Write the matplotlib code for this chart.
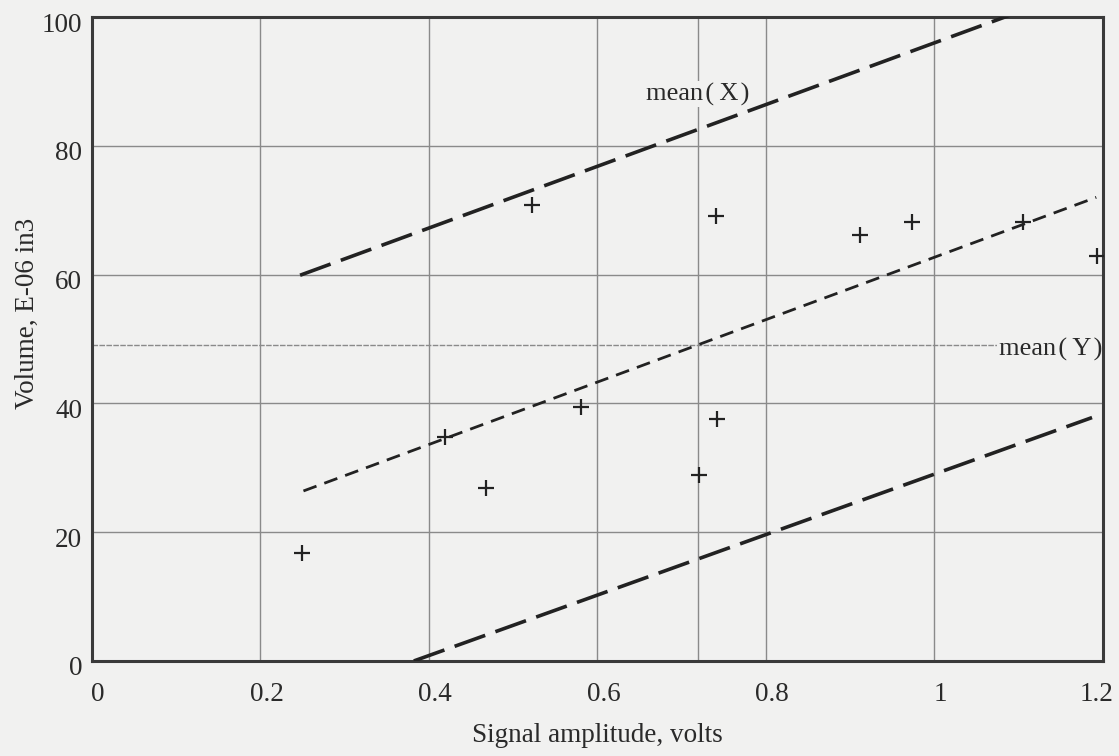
import matplotlib
matplotlib.use('Agg')
import matplotlib.pyplot as plt
import matplotlib.transforms as mtransforms
import numpy as np

# Measured points (signal amplitude in volts, volume in E-06 in3)
amplitude = [0.249, 0.419, 0.468, 0.580, 0.721, 0.742,
             0.522, 0.741, 0.912, 0.973, 1.105, 1.193]
volume = [16.8, 34.8, 26.8, 39.5, 28.9, 37.5,
          70.8, 69.1, 66.1, 68.2, 68.2, 62.9]

# Fit line and its upper / lower bounds, end points
fit_x = [0.251, 1.192]
fit_y = [26.4, 72.0]
upper_x = [0.247, 1.092]
upper_y = [59.9, 100.4]
lower_x = [0.382, 1.187]
lower_y = [0.0, 37.8]

x_ticks = [0, 0.2, 0.4, 0.6, 0.8, 1.0, 1.2]
x_tick_labels = ['0', '0.2', '0.4', '0.6', '0.8', '1', '1.2']
y_ticks = [0, 20, 40, 60, 80, 100]

BG = '#f1f1f0'
INK = '#2a2a2a'
GRID = '#8a8a8a'

plt.rcParams['font.family'] = ['Liberation Serif', 'DejaVu Serif']

fig = plt.figure(figsize=(11.19, 7.56), dpi=100, facecolor=BG)
ax = fig.add_axes([0.0822, 0.1257, 0.9035, 0.8518], facecolor=BG)

ax.set_xlim(0, 1.2)
ax.set_ylim(0, 100)
ax.set_xticks(x_ticks)
ax.set_xticklabels(x_tick_labels)
ax.set_yticks(y_ticks)
ax.tick_params(length=0, labelsize=19.5, colors=INK)
ax.tick_params(axis='x', pad=15)
ax.tick_params(axis='y', pad=7)

# nudge tick labels a bit like the original
offset = mtransforms.ScaledTranslation(0, -5 / 100, fig.dpi_scale_trans)
for lbl in ax.get_yticklabels():
    lbl.set_transform(lbl.get_transform() + offset)
xlabels = ax.get_xticklabels()
for lbl in xlabels[:-1]:
    lbl.set_transform(lbl.get_transform()
                      + mtransforms.ScaledTranslation(6 / 100, 0, fig.dpi_scale_trans))
xlabels[-1].set_transform(xlabels[-1].get_transform()
                          + mtransforms.ScaledTranslation(-6 / 100, 0, fig.dpi_scale_trans))

ax.grid(True, color=GRID, linewidth=1.0)
ax.set_axisbelow(True)
for sp in ax.spines.values():
    sp.set_linewidth(2.2)
    sp.set_color('#3a3a3a')

# mean markers
mean_x = np.mean(amplitude)
mean_y = np.mean(volume)
ax.axvline(mean_x, color=GRID, linewidth=1.0, zorder=1)
ax.axhline(mean_y, color=GRID, linewidth=1.0, linestyle=(0, (4, 1)), zorder=1)
ax.text(mean_x, 88, 'mean\u200a(\u2009X\u200a)', ha='center', va='center', fontsize=19,
        color=INK, bbox=dict(facecolor=BG, edgecolor='none', pad=1), zorder=2)
ax.text(1.199, mean_y - 0.8, 'mean\u200a(\u2009Y\u200a)', ha='right', va='center', fontsize=19,
        color=INK, bbox=dict(facecolor=BG, edgecolor='none', pad=1), zorder=2)

ax.plot(upper_x, upper_y, color='#222222', linewidth=2.6, dashes=(9, 3), zorder=3)
ax.plot(fit_x, fit_y, color='#222222', linewidth=2.0, dashes=(5, 3), zorder=3)
ax.plot(lower_x, lower_y, color='#222222', linewidth=2.6, dashes=(9, 3), zorder=3)

ax.plot(amplitude, volume, linestyle='none', marker='+', markersize=12,
        markeredgewidth=1.6, color='#222222', zorder=4)

ax.set_xlabel('Signal amplitude, volts', fontsize=19.5, color=INK, labelpad=12)
ax.set_ylabel('Volume, E-06 in3', fontsize=19.5, color=INK)
ax.yaxis.set_label_coords(-0.052, 0.54)

plt.savefig('out.png', dpi=100, facecolor=BG)
